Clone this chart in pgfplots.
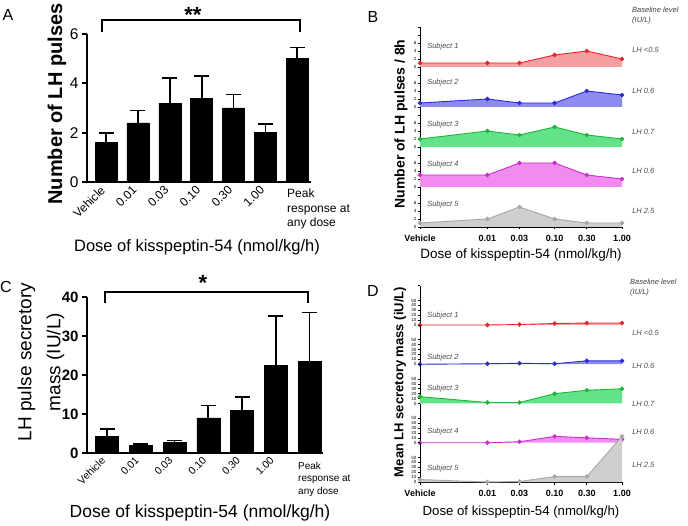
\documentclass[border=0pt]{standalone}
\usepackage{fontspec}
\setmainfont{Liberation Sans}
\usepackage{pgfplots}
\pgfplotsset{compat=1.18}
\usepackage{pgfplotstable}

\definecolor{cRl}{HTML}{E8262B}\definecolor{cRf}{HTML}{F5A0A0}
\definecolor{cBl}{HTML}{2B2BD9}\definecolor{cBf}{HTML}{8C8CF0}
\definecolor{cGl}{HTML}{1DB53A}\definecolor{cGf}{HTML}{62E38A}
\definecolor{cMl}{HTML}{CC2ECC}\definecolor{cMf}{HTML}{F08CF0}
\definecolor{cKl}{HTML}{A6A6A6}\definecolor{cKf}{HTML}{CFCFCF}

% LH pulses per 8 h, x = log10(dose), vehicle drawn at -3
\pgfplotstableread{
x       s1 s2 s3 s4 s5
-3      1  1  2  3  1
-2      1  2  4  3  2
-1.5229 1  1  3  6  5
-1      3  1  5  6  2
-0.5229 4  4  3  3  1
0       2  3  2  2  1
}\pulses

% mean LH secretory mass
\pgfplotstableread{
x       s1 s2 s3 s4 s5
-3      0  0  14 0  5
-2      0  1  2  0  0
-1.5229 1  2  2  2  1
-1      3  1  20 13 11
-0.5229 4  7  27 10 11
0       4  7  30 7  93
}\mass

\tikzset{sublab/.style={font=\itshape\fontsize{7.5}{8}\selectfont, text=black!70, inner sep=0pt}}

\pgfplotsset{
  every axis/.append style={/pgf/number format/assume math mode=true},
  barax/.style={scale only axis, axis x line*=bottom, axis y line*=left,
    axis line style={line width=1.8pt}, xtick={0,...,5},
    xticklabels={Vehicle,0.01,0.03,0.10,0.30,1.00}, xtick style={draw=none},
    ytick style={line width=1.8pt, black}, major tick length=5pt, tick align=outside,
    ymin=0, clip=false,
    xticklabel style={rotate=45, anchor=north east, inner sep=1pt, yshift=7pt, xshift=-2pt}},
  sub/.style={scale only axis, width=202pt, xmin=-3, xmax=0, ymin=0,
    hide x axis, axis y line*=left, axis line style={line width=0.8pt},
    tick style={line width=0.6pt, black}, major tick length=2.5pt, tick align=outside,
    clip=false, yticklabel style={font=\fontsize{4.5}{5}\selectfont, inner sep=1pt}},
  bsub/.style={sub, height=40pt, ymax=10, ytick={0,2,4,6,8,10}, yticklabels={0,2,4,6,,}},
  dsub/.style={sub, height=39.25pt, ymax=80, ytick={0,10,20,30,40,50,80},
    yticklabels={0,10,20,30,40,50,}},
  bottom/.style={hide x axis=false, axis x line*=bottom, xtick={-3,-2,-1.5229,-1,-0.5229,0},
    xticklabels={Vehicle,0.01,0.03,0.10,0.30,1.00},
    xticklabel style={font=\bfseries\fontsize{9}{9}\selectfont, yshift=-2pt}},
  errs/.style={error bars/.cd, y dir=plus, y explicit,
    error bar style={line width=1.8pt},
    error mark options={rotate=90, line width=1.8pt, mark size=7.5pt}},
}

% #1 style, #2 baseline, #3 column, #4 colour, #5 table, #6 subject label y,
% #7 subject no., #8 right label, #9 right label y
\newcommand{\subj}[9]{%
\begin{axis}[#1, at={(420pt,#2pt)}, anchor=south west]
\addplot[draw=none, fill=#4f] table[x=x, y=#3] {#5} \closedcycle;
\addplot[#4l, line width=0.9pt, mark=*, mark size=1.8pt] table[x=x, y=#3] {#5};
\node[sublab, anchor=west] at (rel axis cs:0.035,#6) {Subject #7};
\node[sublab, anchor=west] at (rel axis cs:1.05,#9) {#8};
\end{axis}}

\begin{document}
\begin{tikzpicture}

% A
\begin{axis}[barax, at={(87pt,343pt)}, anchor=south west, width=224pt, height=148pt,
  xmin=-0.596, xmax=6.43, ymax=6, ytick={0,2,4,6},
  yticklabel style={font=\fontsize{15.5}{16}\selectfont},
  xticklabel style={font=\fontsize{12}{12}\selectfont}]
\addplot[ybar, bar width=22pt, fill=black, draw=black, errs]
  coordinates {(0,1.6) +- (0,0.4) (1,2.4) +- (0,0.5) (2,3.2) +- (0,1.0)
               (3,3.4) +- (0,0.9) (4,3.0) +- (0,0.55) (5,2.0) +- (0,0.35)
               (6,5.0) +- (0,0.45)};
\end{axis}

% C
\begin{axis}[barax, at={(87pt,72pt)}, anchor=south west, width=236pt, height=156pt,
  xmin=-0.593, xmax=6.40, ymax=40, ytick={0,10,20,30,40},
  yticklabel style={font=\bfseries\fontsize{15}{15}\selectfont},
  xticklabel style={font=\fontsize{10.5}{10.5}\selectfont}]
\addplot[ybar, bar width=23pt, fill=black, draw=black, errs]
  coordinates {(0,4.2) +- (0,2.0) (1,2.0) +- (0,0.3) (2,2.7) +- (0,0.5)
               (3,9.0) +- (0,3.2) (4,11.0) +- (0,3.3) (5,22.5) +- (0,12.7)
               (6,23.5) +- (0,12.5)};
\end{axis}

% B
\subj{bsub}{458}{s1}{cR}{\pulses}{0.5}{1}{LH <0.5}{0.42}
\subj{bsub}{418}{s2}{cB}{\pulses}{0.62}{2}{LH 0.6}{0.4}
\subj{bsub}{378}{s3}{cG}{\pulses}{0.55}{3}{LH 0.7}{0.375}
\subj{bsub}{338}{s4}{cM}{\pulses}{0.57}{4}{LH 0.6}{0.4}
\subj{bsub,bottom}{298}{s5}{cK}{\pulses}{0.55}{5}{LH 2.5}{0.4}

% D
\subj{dsub}{200}{s1}{cR}{\mass}{0.23}{1}{LH <0.5}{-0.2}
\subj{dsub}{160.75}{s2}{cB}{\mass}{0.18}{2}{LH 0.6}{-0.05}
\subj{dsub}{121.5}{s3}{cG}{\mass}{0.38}{3}{LH 0.7}{0}
\subj{dsub}{82.25}{s4}{cM}{\mass}{0.28}{4}{LH 0.6}{0.28}
\subj{dsub,bottom}{43}{s5}{cK}{\mass}{0.33}{5}{LH 2.5}{0.43}

% panel letters
\node[font=\fontsize{16}{16}\selectfont] at (8pt,510pt) {A};
\node[font=\fontsize{16}{16}\selectfont] at (373pt,508pt) {B};
\node[font=\fontsize{16}{16}\selectfont] at (6pt,238pt) {C};
\node[font=\fontsize{16}{16}\selectfont] at (373pt,234pt) {D};

% axis titles
\node[rotate=90, font=\bfseries\fontsize{20}{20}\selectfont] at (57pt,421pt) {Number of LH pulses};
\node[font=\fontsize{16.5}{17}\selectfont] at (197pt,278pt) {Dose of kisspeptin-54 (nmol/kg/h)};
\node[rotate=90, align=center, font=\fontsize{19}{29}\selectfont] at (41pt,163pt) {LH pulse secretory\\mass (IU/L)};
\node[font=\fontsize{17.5}{18}\selectfont] at (200pt,12pt) {Dose of kisspeptin-54 (nmol/kg/h)};
\node[rotate=90, font=\bfseries\fontsize{14}{14}\selectfont] at (401pt,401pt) {Number of LH pulses / 8h};
\node[font=\fontsize{13.5}{14}\selectfont] at (521pt,270pt) {Dose of kisspeptin-54 (nmol/kg/h)};
\node[rotate=90, font=\bfseries\fontsize{13}{13}\selectfont] at (400pt,143pt) {Mean LH secretory mass (iU/L)};
\node[font=\fontsize{13.2}{14}\selectfont] at (521pt,13pt) {Dose of kisspeptin-54 (nmol/kg/h)};

% peak labels
\node[anchor=north west, align=left, inner sep=0pt, font=\fontsize{12}{14.5}\selectfont] at (287pt,336pt) {Peak\\response at\\any dose};
\node[anchor=north west, align=left, inner sep=0pt, font=\fontsize{10}{12.5}\selectfont] at (298pt,63pt) {Peak\\response at\\any dose};

% baseline headers
\node[anchor=west, align=left, inner sep=0pt, font=\itshape\fontsize{7.5}{10}\selectfont, text=black!75] at (632pt,509pt) {Baseline level\\(IU/L)};
\node[anchor=west, align=left, inner sep=0pt, font=\itshape\fontsize{7.5}{10}\selectfont, text=black!75] at (630pt,237pt) {Baseline level\\(IU/L)};

% significance brackets
\draw[line width=1.8pt] (102pt,493pt) -- (102pt,505pt) -- (300pt,505pt) -- (300pt,493pt);
\node[anchor=base, font=\bfseries\fontsize{22}{22}\selectfont] at (193pt,502pt) {**};
\draw[line width=1.8pt] (105pt,222pt) -- (105pt,233pt) -- (308pt,233pt) -- (308pt,222pt);
\node[anchor=base, font=\bfseries\fontsize{22}{22}\selectfont] at (203pt,234pt) {*};

\pgfresetboundingbox
\path[use as bounding box] (0,0) rectangle (688pt,525pt);
\end{tikzpicture}
\end{document}
